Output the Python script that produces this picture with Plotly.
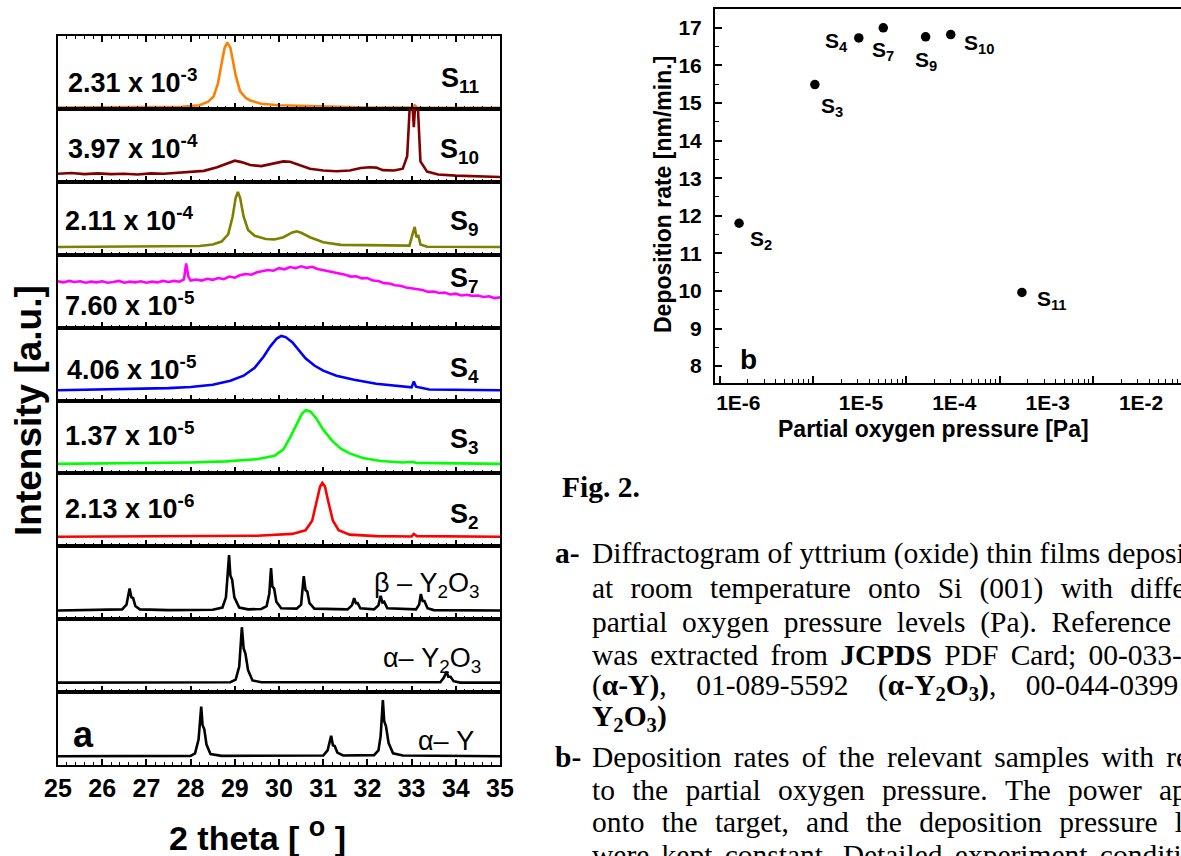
import numpy as np
import plotly.graph_objects as go

W, H = 1181, 856

# ---------------- (a) XRD patterns : 2-theta [deg] and intensity [a.u., 0-100 per panel] ----------------
tt_s11 = [25.0, 27.0, 27.8, 28.2, 28.4, 28.52, 28.62, 28.7, 28.77, 28.83, 28.9, 28.97, 29.02, 29.12,
          29.25, 29.35, 29.6, 30.0, 30.5, 31.2, 32.0, 33.0, 33.07, 33.12, 35.0]
int_s11 = [2, 2, 3, 5, 10, 17, 35, 62, 84, 91, 84, 62, 46, 24,
           15, 11.5, 7, 5, 4, 3, 2, 2, 5, 2, 1.5]

tt_s10 = [25.0, 25.3, 25.6, 25.9, 26.2, 26.5, 26.8, 27.1, 27.4, 27.7, 28.0, 28.3, 28.6, 28.85, 29.0,
          29.15, 29.35, 29.6, 29.85, 30.1, 30.25, 30.45, 30.7, 31.0, 31.3, 31.6, 31.85, 32.05, 32.2,
          32.35, 32.6, 32.8, 32.9, 32.96, 33.02, 33.05, 33.08, 33.14, 33.2, 33.35, 33.6, 34.0, 34.5, 35.0]
int_s10 = [11, 12, 10.5, 11.5, 10.5, 11, 10, 11.5, 11, 12, 13, 15, 20, 26, 29,
           27, 23, 21.5, 25, 28, 27.5, 23, 18, 15.5, 14.5, 15.5, 19, 20, 19.5,
           16, 15.5, 18, 35, 105, 105, 75, 105, 105, 28, 14, 10, 8.5, 7, 6.5]

tt_s9 = [25.0, 27.5, 28.2, 28.5, 28.7, 28.85, 28.95, 29.02, 29.07, 29.12, 29.2, 29.3, 29.45, 29.7,
         29.9, 30.1, 30.3, 30.4, 30.5, 30.7, 31.0, 31.4, 32.0, 32.6, 32.95, 33.03, 33.07, 33.11,
         33.15, 33.2, 33.35, 35.0]
int_s9 = [10.5, 11, 12, 14, 18, 28, 52, 78, 86, 78, 52, 34, 26, 21.5,
          21, 24, 30.5, 32, 30, 24, 17, 13.5, 13, 12, 12.5, 30, 38, 24,
          27, 14, 11, 10.5]

tt_s7 = [25.0, 25.125, 25.25, 25.375, 25.5, 25.625, 25.75, 25.875, 26.0, 26.125, 26.25, 26.375, 26.5,
         26.625, 26.75, 26.875, 27.0, 27.125, 27.25, 27.375, 27.5, 27.625, 27.75, 27.85, 27.9, 27.95,
         28.0, 28.125, 28.25, 28.375, 28.5, 28.625, 28.75, 28.875, 29.0, 29.125, 29.25, 29.375, 29.5,
         29.625, 29.75, 29.875, 30.0, 30.125, 30.25, 30.375, 30.5, 30.625, 30.75, 30.875, 31.0, 31.125,
         31.25, 31.375, 31.5, 31.625, 31.75, 31.875, 32.0, 32.125, 32.25, 32.375, 32.5, 32.625, 32.75,
         32.875, 33.0, 33.125, 33.25, 33.375, 33.5, 33.625, 33.75, 33.875, 34.0, 34.125, 34.25, 34.375,
         34.5, 34.625, 34.75, 34.875, 35.0]
int_s7 = [63.5, 62, 64, 62.5, 63.5, 61.5, 63, 62, 63.5, 61.5, 62.5, 64, 61.5,
          63, 62, 63.5, 61.5, 63, 62, 64, 62.5, 64, 63, 66, 88, 70,
          64.5, 66, 64.5, 67, 65.5, 68, 66.5, 70, 68.5, 72, 73.5, 72.5, 76,
          77.5, 79, 78, 81.5, 80, 83, 81.5, 84, 82, 83.5, 80.5, 79, 77.5,
          75, 74, 72.5, 70, 70.5, 67.5, 68, 64.5, 64, 61, 60.5, 58, 57.5,
          55, 54, 52.5, 51.5, 49, 49.5, 47.5, 48, 45.5, 46.5, 44, 45, 43.5,
          44, 42, 43, 40.5, 41.5]

tt_s4 = [25.0, 26.0, 27.0, 27.5, 28.0, 28.5, 28.9, 29.2, 29.45, 29.65, 29.8, 29.95, 30.05, 30.15,
         30.3, 30.45, 30.6, 30.8, 31.0, 31.3, 31.7, 32.2, 32.7, 33.0, 33.05, 33.1, 33.4, 34.0, 35.0]
int_s4 = [14, 15, 16, 17, 18.5, 21.5, 27, 34, 45, 60, 74, 85, 88.5, 87,
          80, 69, 58, 48, 41, 34, 28.5, 23, 19.5, 18, 26, 19, 15, 14.5, 14]

tt_s3 = [25.0, 27.0, 28.0, 28.8, 29.5, 29.9, 30.1, 30.25, 30.4, 30.52, 30.61, 30.72, 30.85, 31.0,
         31.2, 31.4, 31.6, 31.9, 32.3, 32.8, 33.03, 33.1, 35.0]
int_s3 = [13, 14, 15, 16.5, 19.5, 24, 33, 49, 68, 82, 87, 84.5, 75, 60,
          45, 34, 27.5, 21, 17, 15, 16, 14.5, 13]

tt_s2 = [25.0, 28.0, 29.5, 30.3, 30.6, 30.75, 30.85, 30.93, 30.98, 31.04, 31.12, 31.22, 31.35, 31.6,
         32.2, 33.0, 33.05, 33.12, 35.0]
int_s2 = [13, 13.5, 14.5, 17, 22, 35, 60, 82, 87, 82, 60, 35, 22, 16,
          14, 13.5, 17, 14, 13]

tt_beta = [25.0, 26.3, 26.45, 26.55, 26.62, 26.66, 26.70, 26.75, 26.85, 27.5, 28.5, 28.72, 28.8, 28.87,
           28.9, 28.94, 28.99, 29.1, 29.3, 29.6, 29.72, 29.78, 29.82, 29.85, 29.89, 29.94, 30.05, 30.4,
           30.5, 30.56, 30.6, 30.64, 30.69, 30.8, 31.55, 31.65, 31.7, 31.74, 31.78, 31.84, 32.15, 32.25,
           32.30, 32.34, 32.38, 32.45, 33.1, 33.17, 33.21, 33.25, 33.29, 33.36, 33.5, 35.0]
int_beta = [12, 12.5, 13.5, 20, 42, 30, 29, 18, 13.5, 12.5, 13, 16, 30, 88,
            60, 54, 30, 16, 13.5, 14, 18, 35, 70, 45, 42, 24, 15, 14.5,
            20, 59, 40, 38, 22, 14.5, 13.5, 19, 29, 22, 22, 15, 13.5, 19,
            32, 23, 24, 15, 13.5, 20, 34.5, 25, 25, 15, 12.5, 12]

tt_ay2o3 = [25.0, 28.9, 29.02, 29.1, 29.16, 29.2, 29.24, 29.3, 29.4, 29.6, 33.65, 33.73, 33.79, 33.83,
            33.88, 33.95, 34.1, 35.0]
int_ay2o3 = [13, 13.5, 17, 35, 89, 60, 53, 30, 16, 13.5, 13.5, 20, 28, 21,
             21, 15, 13, 13]

tt_ay = [25.0, 28.0, 28.1, 28.18, 28.24, 28.27, 28.31, 28.36, 28.45, 28.7, 31.0, 31.1, 31.18, 31.22,
         31.26, 31.32, 31.45, 32.15, 32.25, 32.3, 32.35, 32.38, 32.42, 32.48, 32.58, 32.8, 35.0]
int_ay = [12, 12.5, 16, 35, 80, 55, 49, 28, 15, 12.5, 13, 20, 40, 27,
          26, 17, 13, 13.5, 20, 40, 89, 60, 53.5, 30, 16, 13, 12]

pressure_labels = ["2.31 x 10<sup>-3</sup>", "3.97 x 10<sup>-4</sup>", "2.11 x 10<sup>-4</sup>",
                   "7.60 x 10<sup>-5</sup>", "4.06 x 10<sup>-5</sup>", "1.37 x 10<sup>-5</sup>",
                   "2.13 x 10<sup>-6</sup>"]
sample_names = ["S<sub>11</sub>", "S<sub>10</sub>", "S<sub>9</sub>", "S<sub>7</sub>",
                "S<sub>4</sub>", "S<sub>3</sub>", "S<sub>2</sub>"]
ref_names = ["\u03b2 \u2013 Y<sub>2</sub>O<sub>3</sub>", "\u03b1\u2013 Y<sub>2</sub>O<sub>3</sub>",
             "\u03b1\u2013 Y"]

# ---------------- (b) deposition rate vs partial O2 pressure ----------------
dep_samples = ["S<sub>2</sub>", "S<sub>3</sub>", "S<sub>4</sub>", "S<sub>7</sub>",
               "S<sub>9</sub>", "S<sub>10</sub>", "S<sub>11</sub>"]
dep_pressure = [1.62e-6, 1.05e-5, 3.1e-5, 5.67e-5, 1.61e-4, 2.99e-4, 1.73e-3]
dep_rate = [11.80, 15.49, 16.73, 17.00, 16.76, 16.82, 9.96]
p_ticks = [1e-6, 1e-5, 1e-4, 1e-3, 1e-2]
p_ticktext = ["1E-6", "1E-5", "1E-4", "1E-3", "1E-2"]

# ---------------- styling ----------------
SANS = "Liberation Sans"
SERIF = "Liberation Serif"
panel_series = [
    (tt_s11, int_s11, "#FF8000"), (tt_s10, int_s10, "#800000"), (tt_s9, int_s9, "#808000"),
    (tt_s7, int_s7, "#FF00FF"), (tt_s4, int_s4, "#0000FF"), (tt_s3, int_s3, "#00FF00"),
    (tt_s2, int_s2, "#FF0000"), (tt_beta, int_beta, "black"), (tt_ay2o3, int_ay2o3, "black"),
    (tt_ay, int_ay, "black"),
]
# label placement (x in 2-theta, y as fraction of the panel height)
press_pos = [(25.19, 0.125), (25.19, 0.21), (25.11, 0.226), (25.11, 0.06), (25.15, 0.192),
             (25.11, 0.277), (25.11, 0.272)]
sample_pos = [0.661, 0.679, 0.695, 0.918, 0.683, 0.70, 0.672]
ref_pos = [(34.6, 0.735), (34.62, 0.706), (34.45, 0.564)]

top_px, ph = 36.0, 72.9
xl0, xl1 = 58 / W, 500 / W

fig = go.Figure()
layout = dict(width=W, height=H, margin=dict(l=0, r=0, t=0, b=0, autoexpand=False),
              paper_bgcolor="white", plot_bgcolor="white", showlegend=False)
annotations = []

for k, (xs, ys, col) in enumerate(panel_series):
    idx = k + 1
    sid = "" if idx == 1 else str(idx)
    top = top_px + k * ph
    bot = top + ph
    fig.add_trace(go.Scatter(x=xs, y=ys, mode="lines", line=dict(color=col, width=2.6),
                             xaxis="x" + sid, yaxis="y" + sid, hoverinfo="skip"))
    layout["xaxis" + sid] = dict(
        domain=[xl0, xl1], anchor="y" + sid, range=[25, 35], tick0=25, dtick=1,
        ticks="inside", ticklen=6, tickwidth=1.5, tickcolor="black",
        showline=True, linecolor="black", linewidth=2,
        mirror="allticks" if k == 0 else True, automargin=False,
        showgrid=False, zeroline=False, showticklabels=(k == 9),
        tickfont=dict(family=SANS, size=25, color="black", weight="bold"),
        ticklabelstandoff=0,
        minor=dict(ticks="inside", tick0=25, dtick=0.2, ticklen=3, tickwidth=1.2,
                   tickcolor="black", showgrid=False),
    )
    layout["yaxis" + sid] = dict(
        domain=[1 - bot / H, 1 - top / H], anchor="x" + sid, range=[0, 100], automargin=False,
        showline=True, linecolor="black", linewidth=2, mirror=True,
        showticklabels=False, ticks="", showgrid=False, zeroline=False,
    )
    if k < 7:
        px_, py_ = press_pos[k]
        annotations.append(dict(text=pressure_labels[k], x=px_, y=py_, xref="x" + sid,
                                yref="y" + sid + " domain", xanchor="left", yanchor="bottom",
                                showarrow=False,
                                font=dict(family=SANS, size=27, color="black", weight="bold")))
        annotations.append(dict(text=sample_names[k], x=34.58, y=sample_pos[k], xref="x" + sid,
                                yref="y" + sid + " domain", xanchor="right", yanchor="top",
                                showarrow=False,
                                font=dict(family=SANS, size=27, color="black", weight="bold")))
    else:
        rx, ry = ref_pos[k - 7]
        annotations.append(dict(text=ref_names[k - 7], x=rx, y=ry, xref="x" + sid,
                                yref="y" + sid + " domain", xanchor="right", yanchor="top",
                                showarrow=False,
                                font=dict(family=SANS, size=27, color="black")))

# panel letter a
annotations.append(dict(text="a", x=25.3, y=0.425, xref="x10", yref="y10 domain",
                        xanchor="left", yanchor="middle", showarrow=False,
                        font=dict(family=SANS, size=36, color="black", weight="bold")))
# axis titles of (a)
annotations.append(dict(text="Intensity [a.u.]", x=28 / W, y=1 - 411 / H, xref="paper", yref="paper",
                        textangle=-90, xanchor="center", yanchor="middle", showarrow=False,
                        font=dict(family=SANS, size=37, color="black", weight="bold")))
annotations.append(dict(text="2 theta [ <sup><span style='font-size:27px'>o</span></sup> ]",
                        x=257 / W, y=1 - 834 / H, xref="paper",
                        yref="paper", xanchor="center", yanchor="middle", showarrow=False,
                        font=dict(family=SANS, size=34, color="black", weight="bold")))

# ---------------- panel (b) ----------------
fig.add_trace(go.Scatter(x=dep_pressure, y=dep_rate, mode="markers",
                         marker=dict(color="black", size=9.5), xaxis="x11", yaxis="y11",
                         hoverinfo="skip"))
log_left = -6 - 4.5 / 93.4
log_right = -6 + (W - 719.5) / 93.4
minor_vals = [m * 10.0 ** e for e in range(-7, 0) for m in range(2, 10)]
# first label sits further left in the original figure: pad it with trailing spaces
p_ticktext_shown = [p_ticktext[0] + "\u00a0" * 10] + p_ticktext[1:]
layout["xaxis11"] = dict(
    type="log", domain=[715 / W, 1.0], anchor="y11", range=[log_left, log_right],
    tickmode="array", tickvals=p_ticks, ticktext=p_ticktext_shown, automargin=False,
    ticks="inside", ticklen=7, tickwidth=1.5, tickcolor="black",
    showline=True, linecolor="black", linewidth=2, mirror=True,
    showgrid=False, zeroline=False,
    tickfont=dict(family=SANS, size=21, color="black", weight="bold"),
    ticklabelshift=48, ticklabelstandoff=0,
    minor=dict(tickmode="array", tickvals=minor_vals, ticks="inside", ticklen=4, tickwidth=1.2,
               tickcolor="black", showgrid=False),
)
layout["yaxis11"] = dict(
    domain=[1 - 383 / H, 1 - 9 / H], anchor="x11", range=[7.55, 17.5], tick0=8, dtick=1,
    ticks="inside", ticklen=7, tickwidth=1.5, tickcolor="black", automargin=False,
    showline=True, linecolor="black", linewidth=2, mirror=False,
    showgrid=False, zeroline=False,
    tickfont=dict(family=SANS, size=21, color="black", weight="bold"),
    ticklabelstandoff=7,
    minor=dict(ticks="inside", tick0=8, dtick=0.5, ticklen=4, tickwidth=1.2, tickcolor="black",
               showgrid=False),
)
# sample labels next to points (offsets in px: right, down)
label_offsets = [(10.7, 15.6), (5.7, 20.8), (-34, 2.5), (-11.6, 22), (-10.7, 22.7), (13.6, 7.5),
                 (14.7, 5.8)]
for name, p, r, (dx, dy) in zip(dep_samples, dep_pressure, dep_rate, label_offsets):
    annotations.append(dict(text=name, x=np.log10(p), y=r, xref="x11", yref="y11",
                            xanchor="left", yanchor="top", xshift=dx - 2, yshift=13.5 - dy,
                            showarrow=False,
                            font=dict(family=SANS, size=21, color="black", weight="bold")))
annotations.append(dict(text="b", x=748 / W, y=1 - 359 / H, xref="paper", yref="paper",
                        xanchor="center", yanchor="middle", showarrow=False,
                        font=dict(family=SANS, size=28, color="black", weight="bold")))
annotations.append(dict(text="Deposition rate [nm/min.]", x=663 / W, y=1 - 195 / H, xref="paper",
                        yref="paper", textangle=-90, xanchor="center", yanchor="middle",
                        showarrow=False,
                        font=dict(family=SANS, size=23, color="black", weight="bold")))
annotations.append(dict(text="Partial oxygen pressure [Pa]", x=933 / W, y=1 - 429 / H,
                        xref="paper", yref="paper", xanchor="center", yanchor="middle",
                        showarrow=False,
                        font=dict(family=SANS, size=23, color="black", weight="bold")))

# ---------------- caption text ----------------
def jl(words, gap):
    return gap.join(words)

cap_lines = [
    (jl("Diffractogram of yttrium (oxide) thin films deposited".split(), " "), 553),
    (jl("at room temperature onto Si (001) with different".split(), "\u00a0\u2004"), 588),
    (jl("partial oxygen pressure levels (Pa). Reference data".split(), "\u00a0\u00a0"), 622),
    (jl(["was", "extracted", "from", "<b>JCPDS</b>", "PDF", "Card;", "00-033-1"], "\u00a0\u2006"), 655),
    (jl(["(<b>\u03b1-Y)</b>,", "01-089-5592", "(<b>\u03b1-Y<sub>2</sub>O<sub>3</sub>)</b>,",
         "00-044-0399", "(<b>\u03b2-</b>"], "\u00a0\u00a0\u00a0\u00a0"), 687),
    ("<b>Y<sub>2</sub>O<sub>3</sub>)</b>", 718),
    (jl("Deposition rates of the relevant samples with respect".split(), "\u00a0\u2006"), 757),
    (jl("to the partial oxygen pressure. The power applied".split(), "\u00a0\u2004"), 790),
    (jl("onto the target, and the deposition pressure levels".split(), "\u00a0\u2004"), 822),
    (jl("were kept constant. Detailed experiment conditions".split(), "\u00a0\u2006"), 855),
]
for txt, yc in cap_lines:
    annotations.append(dict(text=txt, x=590 / W, y=1 - yc / H, xref="paper", yref="paper",
                            xanchor="left", yanchor="middle", showarrow=False,
                            font=dict(family=SERIF, size=29.5, color="black")))
for lab, yc in [("a-", 553), ("b-", 757)]:
    annotations.append(dict(text=lab, x=553 / W, y=1 - yc / H, xref="paper", yref="paper",
                            xanchor="left", yanchor="middle", showarrow=False,
                            font=dict(family=SERIF, size=29.5, color="black", weight="bold")))
annotations.append(dict(text="Fig. 2.", x=560 / W, y=1 - 487 / H, xref="paper", yref="paper",
                        xanchor="left", yanchor="middle", showarrow=False,
                        font=dict(family=SERIF, size=29.5, color="black", weight="bold")))

layout["annotations"] = annotations
fig.update_layout(**layout)
fig.write_html("out.html")
